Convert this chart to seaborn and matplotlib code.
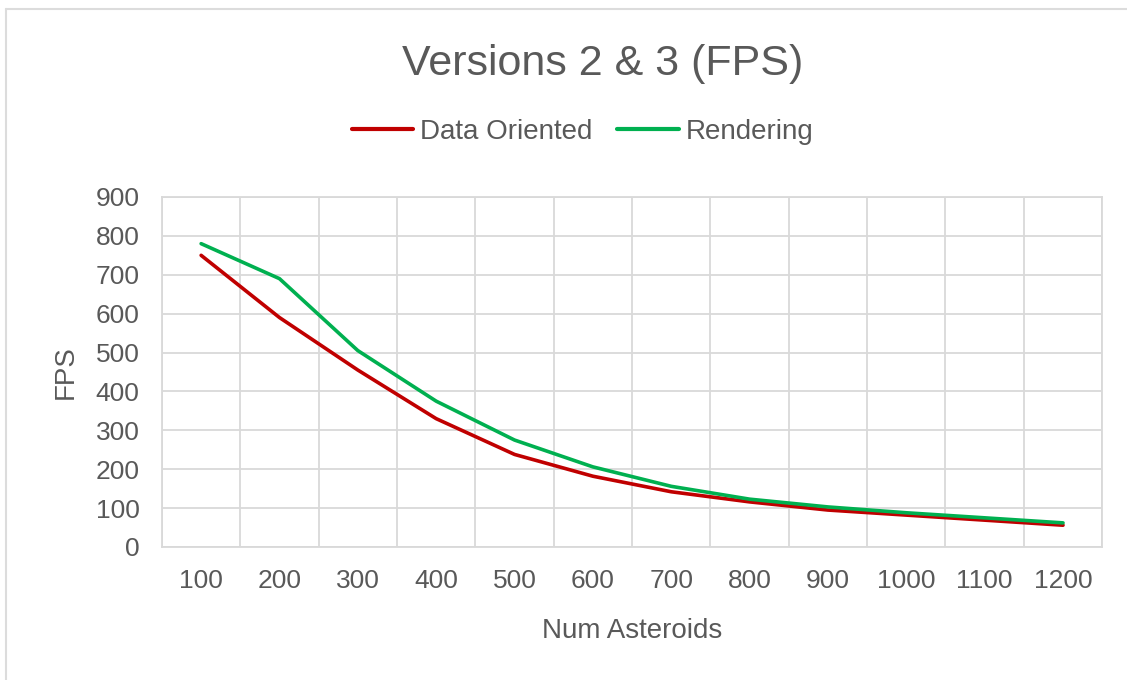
import matplotlib
matplotlib.use("Agg")
import matplotlib.pyplot as plt
import seaborn as sns
import pandas as pd
from matplotlib.lines import Line2D

# Frame rate measurements per asteroid count
num_asteroids = ["100", "200", "300", "400", "500", "600",
                 "700", "800", "900", "1000", "1100", "1200"]
data_oriented = [750, 590, 455, 330, 238, 182, 142, 116, 95, 82, 69, 56]
rendering = [780, 690, 505, 375, 275, 206, 156, 123, 103, 88, 75, 62]
series_names = ["Data Oriented", "Rendering"]
y_ticks = [0, 100, 200, 300, 400, 500, 600, 700, 800, 900]

df = pd.DataFrame({
    "Num Asteroids": num_asteroids * 2,
    "FPS": data_oriented + rendering,
    "Series": [series_names[0]] * len(num_asteroids) + [series_names[1]] * len(num_asteroids),
})

sns.set_theme(style="white")
plt.rcParams["font.family"] = ["Liberation Sans", "DejaVu Sans"]

text_color = "#595959"
grid_color = "#d9d9d9"
palette = {"Data Oriented": "#c00000", "Rendering": "#00b050"}

fig = plt.figure(figsize=(11.27, 6.8), dpi=100)
ax = fig.add_axes([0.1437, 0.1956, 0.978 - 0.1437, 0.7103 - 0.1956])

sns.lineplot(data=df, x="Num Asteroids", y="FPS", hue="Series",
             palette=palette, linewidth=2.6, ax=ax, legend=False, sort=False)

n = len(num_asteroids)
ax.set_xlim(-0.5, n - 0.5)
ax.set_ylim(0, 900)
ax.set_yticks(y_ticks)
ax.set_xticks(range(n))
ax.set_xticklabels(num_asteroids)
ax.set_xticks([i - 0.5 for i in range(n + 1)], minor=True)

ax.grid(False)
ax.grid(True, axis="y", which="major", color=grid_color, linewidth=1.3)
ax.grid(True, axis="x", which="minor", color=grid_color, linewidth=1.3)
ax.set_axisbelow(True)
for side in ["left", "right", "top", "bottom"]:
    ax.spines[side].set_visible(True)
    ax.spines[side].set_color(grid_color)
    ax.spines[side].set_linewidth(1.3)

ax.tick_params(axis="both", which="both", length=0, labelsize=19,
               labelcolor=text_color)
ax.tick_params(axis="y", pad=16)
ax.tick_params(axis="x", pad=16)

ax.set_xlabel("Num Asteroids", fontsize=20, color=text_color, labelpad=18)
ax.set_ylabel("FPS", fontsize=20, color=text_color, labelpad=12)

fig.text(0.535, 0.906, "Versions 2 & 3 (FPS)", fontsize=31, color=text_color,
         ha="center", va="center")

handles = [Line2D([0], [0], color=palette[s], linewidth=3) for s in series_names]
fig.legend(handles, series_names, loc="center", bbox_to_anchor=(0.517, 0.806),
           ncol=2, frameon=False, fontsize=20, handlelength=2.2,
           handletextpad=0.25, columnspacing=0.9, labelcolor=text_color)

# Light frame along the top and left edges of the figure
fig.add_artist(Line2D([0.005, 1.0], [0.987, 0.987], transform=fig.transFigure,
                      color="#dcdcdc", linewidth=1.5))
fig.add_artist(Line2D([0.005, 0.005], [0.0, 0.987], transform=fig.transFigure,
                      color="#dcdcdc", linewidth=1.5))

fig.savefig("out.png", dpi=100, facecolor="white")
